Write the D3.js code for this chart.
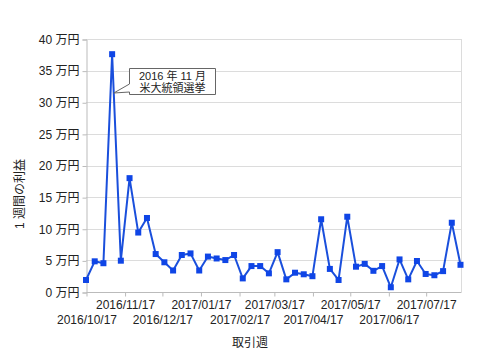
<!DOCTYPE html>
<html>
<head>
<meta charset="utf-8">
<script src="https://cdn.jsdelivr.net/npm/d3@7"></script>
<style>
  body { margin: 0; background: #fff; }
  text { font-family: "Liberation Sans", Arial, "Noto Sans CJK JP", sans-serif; fill: #222; }
</style>
</head>
<body>
<div id="chart"></div>
<script>
'use strict';

// weekly profit, in 万円, one point per week starting 2016/10/17
var startDate = '2016-10-17';
var profit = [
    1.9, 4.85, 4.55, 37.6, 4.95, 18.0, 9.4, 11.7, 6.0, 4.7,
    3.4, 5.85, 6.1, 3.4, 5.6, 5.3, 5.05, 5.85, 2.15, 4.1,
    4.1, 2.95, 6.3, 2.0, 3.05, 2.8, 2.5, 11.5, 3.65, 1.9,
    11.9, 4.0, 4.45, 3.35, 4.1, 0.75, 5.15, 2.0, 4.9, 2.85,
    2.65, 3.3, 10.95, 4.3
];
var yTicks = [0, 5, 10, 15, 20, 25, 30, 35, 40];
var xTickLabels = [
    '2016/10/17', '2016/11/17', '2016/12/17', '2017/01/17', '2017/02/17',
    '2017/03/17', '2017/04/17', '2017/05/17', '2017/06/17', '2017/07/17'
];
var noteLines = ['2016 年 11 月', '米大統領選挙'];
var noteIndex = 3;

var width = 480, height = 360;
var plotLeft = 86, plotRight = 461, plotTop = 39, plotBottom = 292;

var parse = d3.timeParse('%Y-%m-%d');
var parseTick = d3.timeParse('%Y/%m/%d');
var t0 = parse(startDate);
var data = profit.map(function(v, i) {
    return { date: d3.timeDay.offset(t0, i * 7), value: v };
});

var svg = d3.select('#chart')
    .append('svg')
    .attr('width', width)
    .attr('height', height);

var x = d3.scaleTime()
    .domain(d3.extent(data, function(d) { return d.date; }))
    .range([plotLeft, 460.5]);

var y = d3.scaleLinear()
    .domain([0, 40])
    .range([plotBottom, plotTop]);

// gridlines
svg.append('g')
    .selectAll('line')
    .data(yTicks.slice(1))
    .enter()
    .append('line')
    .attr('x1', plotLeft)
    .attr('x2', plotRight)
    .attr('y1', function(d) { return Math.round(y(d)) + 0.5; })
    .attr('y2', function(d) { return Math.round(y(d)) + 0.5; })
    .style('stroke', '#dcdcdc')
    .style('stroke-width', 1);

// right border
svg.append('line')
    .attr('x1', plotRight + 0.5).attr('x2', plotRight + 0.5)
    .attr('y1', plotTop).attr('y2', plotBottom)
    .style('stroke', '#dcdcdc');

// y axis
var yAxis = d3.axisLeft(y)
    .tickValues(yTicks)
    .tickSize(4)
    .tickPadding(3)
    .tickFormat(function(d) { return d + ' 万円'; });

var gy = svg.append('g')
    .attr('transform', 'translate(' + (plotLeft + 0.5) + ',0.5)')
    .call(yAxis);
gy.select('.domain').style('stroke', '#bbb');
gy.selectAll('.tick line').style('stroke', '#bbb');
gy.selectAll('.tick text')
    .style('font-size', '12px')
    .style('fill', '#222');

// x axis
var xAxis = d3.axisBottom(x)
    .tickValues(xTickLabels.map(function(s) { return parseTick(s); }))
    .tickSize(4)
    .tickFormat(d3.timeFormat('%Y/%m/%d'));

var gx = svg.append('g')
    .attr('transform', 'translate(0.5,' + (plotBottom + 0.5) + ')')
    .call(xAxis);
gx.select('.domain').style('stroke', '#bbb').attr('d', 'M' + plotLeft + ',0H' + plotRight);
gx.selectAll('.tick line').style('stroke', '#bbb');
gx.selectAll('.tick text')
    .style('font-size', '12px')
    .style('fill', '#222')
    .attr('dy', null)
    .attr('y', function(d, i) { return i % 2 === 0 ? 31 : 16; });

// line
var line = d3.line()
    .x(function(d) { return x(d.date); })
    .y(function(d) { return y(d.value); });

svg.append('path')
    .datum(data)
    .attr('d', line)
    .style('fill', 'none')
    .style('stroke', '#1a4fdc')
    .style('stroke-width', 2)
    .style('stroke-linejoin', 'round');

var mk = 6;
svg.selectAll('.dot')
    .data(data)
    .enter()
    .append('rect')
    .attr('class', 'dot')
    .attr('x', function(d) { return x(d.date) - mk / 2; })
    .attr('y', function(d) { return y(d.value) - mk / 2; })
    .attr('width', mk)
    .attr('height', mk)
    .style('fill', '#0f45e6');

// callout
var a = data[noteIndex], b = data[noteIndex + 1];
var tipY = 93;
var tipX = x(a.date) + (x(b.date) - x(a.date)) * (tipY - y(a.value)) / (y(b.value) - y(a.value));
var bx0 = 129.5, bx1 = 215.5, by0 = 68.5, by1 = 94.5;
svg.append('path')
    .attr('d', 'M' + bx0 + ',' + by0 + 'H' + bx1 + 'V' + by1 + 'H' + bx0 +
        'V' + 92 + 'L' + tipX + ',' + tipY + 'L' + bx0 + ',' + 84 + 'Z')
    .style('fill', '#fff')
    .style('stroke', '#666')
    .style('stroke-width', 1);

svg.append('g')
    .selectAll('text')
    .data(noteLines)
    .enter()
    .append('text')
    .attr('x', (bx0 + bx1) / 2)
    .attr('y', function(d, i) { return 80 + i * 12; })
    .attr('text-anchor', 'middle')
    .style('font-size', '11px')
    .text(function(d) { return d; });

// axis titles
svg.append('text')
    .attr('transform', 'translate(24,194) rotate(-90)')
    .attr('text-anchor', 'middle')
    .style('font-size', '12px')
    .text('1 週間の利益');

svg.append('text')
    .attr('x', 250)
    .attr('y', 347)
    .attr('text-anchor', 'middle')
    .style('font-size', '12px')
    .text('取引週');
</script>
</body>
</html>
